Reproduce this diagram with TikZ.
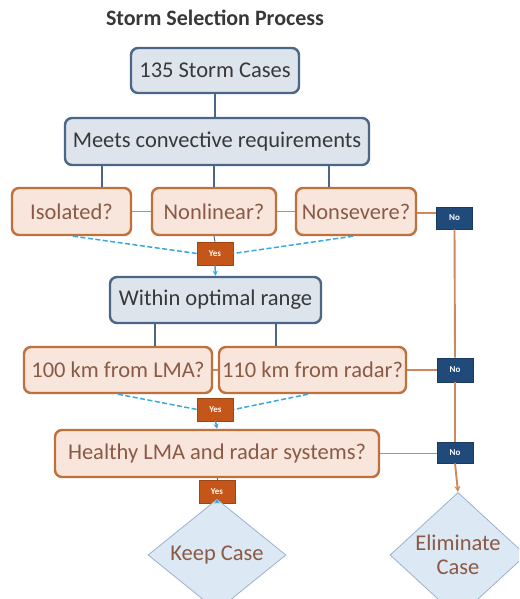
\documentclass[tikz,border=0pt]{standalone}
\usepackage{fontspec}
\setmainfont{Carlito}
\usetikzlibrary{shapes.geometric,arrows.meta,calc}
\definecolor{bborder}{HTML}{4A6688}
\definecolor{bfill}{HTML}{DDE4EC}
\definecolor{btext}{HTML}{383838}
\definecolor{oborder}{HTML}{C0703A}
\definecolor{ofill}{HTML}{F8E6DD}
\definecolor{otext}{HTML}{8A5A44}
\definecolor{yesfill}{HTML}{C4561A}
\definecolor{nofill}{HTML}{1F4A7A}
\definecolor{dashblue}{HTML}{3AA8E0}
\definecolor{dfill}{HTML}{DCE8F3}
\definecolor{dborder}{HTML}{9AB2CF}
\definecolor{olinec}{HTML}{D0875A}
\tikzset{
  bluebox/.style={draw=bborder, line width=2.4pt, fill=bfill, rounded corners=7pt,
    text=btext, font=\fontsize{22.5}{26}\selectfont, inner sep=0pt},
  orbox/.style={draw=oborder, line width=2.4pt, fill=ofill, rounded corners=7pt,
    text=otext, font=\fontsize{22.5}{26}\selectfont, inner sep=0pt},
  yesbox/.style={fill=yesfill, draw=yesfill!80!black, line width=0.6pt, text=white,
    font=\fontsize{9}{10}\selectfont\bfseries, inner sep=0pt, minimum width=36pt, minimum height=23pt},
  nobox/.style={fill=nofill, draw=nofill!80!black, line width=0.6pt, text=white,
    font=\fontsize{9}{10}\selectfont\bfseries, inner sep=0pt, minimum width=36pt, minimum height=22pt},
  dia/.style={diamond, draw=dborder, line width=0.8pt, fill=dfill, text=otext,
    font=\fontsize{22.5}{26}\selectfont, inner sep=0pt, align=center},
  bline/.style={draw=bborder, line width=1.8pt},
  oline/.style={draw=olinec, line width=1.9pt},
  dline/.style={draw=dashblue, line width=1.5pt, dash pattern=on 5pt off 2.5pt},
  barrow/.style={draw=dashblue, line width=1.5pt, -{Stealth[length=5pt,width=5pt]}},
  oarrow/.style={draw=olinec, line width=1.9pt, -{Stealth[length=6pt,width=6pt]}},
}
\begin{document}
\begin{tikzpicture}[x=1pt,y=-1pt]
\useasboundingbox (0,0) rectangle (519,599);
\clip (0,0) rectangle (519,599);
\fill[white] (0,0) rectangle (519,599);

\node[font=\fontsize{22}{26}\selectfont\bfseries, text=btext] (title) at (215,18) {Storm Selection Process};

\node[bluebox, minimum width=168pt, minimum height=45pt] (cases) at (215,70.5) {135 Storm Cases};
\node[bluebox, minimum width=304pt, minimum height=47pt] (meets) at (217,141.5) {Meets convective requirements};

\node[orbox, minimum width=119pt, minimum height=47pt] (iso) at (71.5,211.5) {Isolated?};
\node[orbox, minimum width=124pt, minimum height=47pt] (nonlin) at (214,211.5) {Nonlinear?};
\node[orbox, minimum width=120pt, minimum height=47pt] (nonsev) at (356,211.5) {Nonsevere?};
\node[nobox] (no1) at (454.5,218) {No};
\node[yesbox] (yes1) at (215,253.5) {Yes};

\node[bluebox, minimum width=211pt, minimum height=46pt] (within) at (215.5,300) {Within optimal range};
\node[orbox, minimum width=188pt, minimum height=46pt] (lma) at (118,370) {100 km from LMA?};
\node[orbox, minimum width=187pt, minimum height=46pt] (radar) at (312.5,370) {110 km from radar?};
\node[nobox, minimum height=24pt] (no2) at (455,370) {No};
\node[yesbox] (yes2) at (215.5,409.5) {Yes};

\node[orbox, minimum width=324pt, minimum height=47pt] (healthy) at (217,453.5) {Healthy LMA and radar systems?};
\node[nobox, minimum height=21pt] (no3) at (455,452.5) {No};
\node[yesbox] (yes3) at (217,491.5) {Yes};

\node[dia, minimum width=138pt, minimum height=76pt] (keep) at (217,555) {Keep Case};
\node[dia, minimum width=136pt, minimum height=76pt] (elim) at (458,555) {Eliminate\\[-2pt]Case};

% blue connectors
\draw[bline] (cases.south) -- (cases.south |- meets.north);
\draw[bline] ([xshift=30.5pt]iso.north) -- ([xshift=30.5pt]iso.north |- meets.south);
\draw[bline] (nonlin.north) -- (nonlin.north |- meets.south);
\draw[bline] ([xshift=-27pt]nonsev.north) -- ([xshift=-27pt]nonsev.north |- meets.south);
\draw[bline] ([xshift=-60.5pt]within.south) -- ([xshift=-60.5pt]within.south |- lma.north);
\draw[bline] ([xshift=60.5pt]within.south) -- ([xshift=60.5pt]within.south |- radar.north);

% orange connectors
\draw[oline] (iso.east) -- (nonlin.west);
\draw[oline] (nonlin.east) -- (nonsev.west);
\draw[oline] ([yshift=-1.5pt]nonsev.east) -- ([yshift=-1.5pt]nonsev.east -| no1.west);
\draw[oline] (lma.east) -- (radar.west);
\draw[oline] (radar.east) -- (no2.west);
\draw[oline] (healthy.east) -- (healthy.east -| no3.west);
\draw[oline] (no1.south) -- (no2.north);
\draw[oline] (no2.south) -- (no3.north);
\draw[oarrow] (no3.south) -- (elim.north);

% dashed yes connectors
\draw[dline] ([xshift=1.5pt]iso.south) -- (yes1.west);
\draw[dline] ([xshift=-3pt]nonsev.south) -- (yes1.east);
\draw[bline, line width=1pt] (nonlin.south) -- (yes1.north);
\draw[barrow] (yes1.south) -- (within.north);

\draw[dline] (lma.south) -- (yes2.west);
\draw[dline] ([xshift=-4.5pt]radar.south) -- (yes2.east);
\draw[barrow] (yes2.south) -- (healthy.north);

\draw[bline, line width=1pt] (healthy.south -| yes3.north) -- (yes3.north);
\draw[barrow] (yes3.south) -- (keep.north);
\end{tikzpicture}
\end{document}
